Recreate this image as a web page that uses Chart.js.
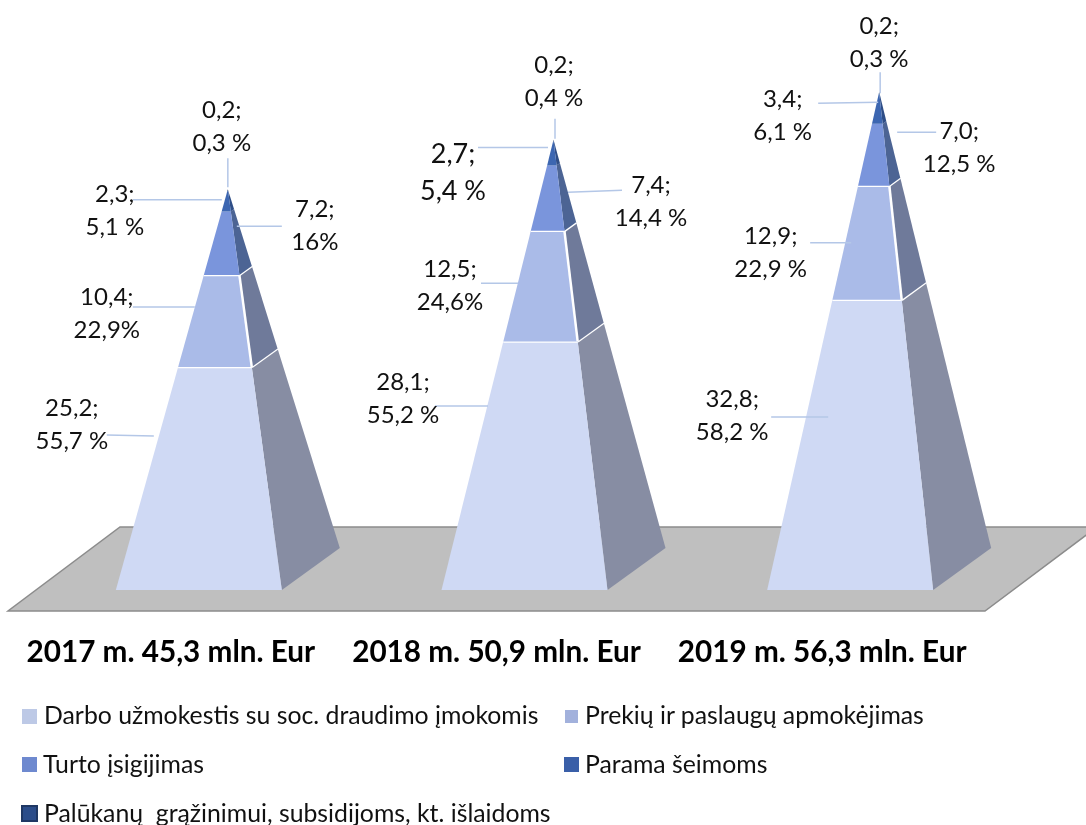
<!DOCTYPE html>
<html>
<head>
<meta charset="utf-8">
<title>Išlaidos</title>
<script src="https://cdn.jsdelivr.net/npm/chart.js@4"></script>
<style>
  html, body { margin: 0; background: #fff; }
  #wrap { position: relative; width: 1086px; height: 825px; overflow: hidden; }
  .legend-text { position: absolute; line-height: 30px; font: 24.8px Lato, sans-serif; color: #111; white-space: pre; }
  .legend-swatch { position: absolute; box-sizing: border-box; }
</style>
</head>
<body>
<div id="wrap">
  <canvas id="pyramidChart" width="1086" height="825"></canvas>
  <div id="legend"></div>
</div>
<script>
const years = ["2017 m. 45,3 mln. Eur", "2018 m. 50,9 mln. Eur", "2019 m. 56,3 mln. Eur"];

const darbo = [25.2, 28.1, 32.8];
const prekes = [10.4, 12.5, 12.9];
const turtas = [7.2, 7.4, 7.0];
const parama = [2.3, 2.7, 3.4];
const palukanos = [0.2, 0.2, 0.2];

const darboPct = ["55,7 %", "55,2 %", "58,2 %"];
const prekesPct = ["22,9%", "24,6%", "22,9 %"];
const turtasPct = ["16%", "14,4 %", "12,5 %"];
const paramaPct = ["5,1 %", "5,4 %", "6,1 %"];
const palukanosPct = ["0,3 %", "0,4 %", "0,3 %"];

const seriesNames = [
  "Darbo užmokestis su soc. draudimo įmokomis",
  "Prekių ir paslaugų apmokėjimas",
  "Turto įsigijimas",
  "Parama šeimoms",
  "Palūkanų  grąžinimui, subsidijoms, kt. išlaidoms",
];
const seriesValues = [darbo, prekes, turtas, parama, palukanos];
const seriesPct = [darboPct, prekesPct, turtasPct, paramaPct, palukanosPct];

const frontColors = ["#cfd9f4", "#aabbe8", "#7a95dc", "#3c66b1", "#1f3864"];
const sideColors = ["#878da3", "#6f7a9a", "#4c6494", "#2f4e87", "#1f3864"];
const legendColors = ["#bdc9e6", "#a2b1dc", "#6e89cf", "#3a5fa8", "#2b4d8a"];

// pyramid shape, px away from the apex at the base
const APEX_SHIFT = 57;
const BASE_LEFT = 112;
const BASE_RIGHT = 54;
const BACK_X = 112;
const BACK_Y = 42;

// label offsets from (apex x, section middle y): text x, text y, leader x0, y0, x1, y1
const labelLayout = [
  [[-156, -54, -121, -43.5, -74, -42.5], [-121, -7.5, -95, -14, -33, -14], [87, -17, 9, -17, 54, -17], [-113, 9.4, -95, -1.6, -6, -1.6], [-6, -63.5, 0, -32, 0, -3]],
  [[-150.5, -67, -118.5, -59.7, -65.5, -59.7], [-103.5, -0.5, -72.5, -3, -35.5, -3], [97.5, 3.5, 14.5, -6, 68.5, -8], [-100.5, 19.5, -75.5, -6, -5.5, -6], [0.5, -59, 1.5, -22, 1.5, -2]],
  [[-147, -29, -108, -28, -51, -28], [-108.5, 10, -69, 0, -28, 0], [80, -7, 18, -22.6, 57, -22.6], [-96.5, 6.5, -61, -5.6, -1, -6.6], [0, -50.6, 1, -20.6, 1, 0.4]],
];

function polygon(ctx, points) {
  ctx.beginPath();
  points.forEach((p, i) => (i ? ctx.lineTo(p[0], p[1]) : ctx.moveTo(p[0], p[1])));
  ctx.closePath();
}

function edgeLine(ctx, a, b) {
  ctx.beginPath();
  ctx.moveTo(a[0], a[1]);
  ctx.lineTo(b[0], b[1]);
  ctx.stroke();
}

const pyramidPlugin = {
  id: "pyramids",
  beforeDatasetsDraw(chart) {
    const { ctx, chartArea, scales } = chart;
    const floorY = scales.y.getPixelForValue(0) + 21;

    // floor
    ctx.save();
    polygon(ctx, [
      [chartArea.left, floorY],
      [chartArea.right, floorY],
      [chartArea.right + 112, floorY - 84],
      [chartArea.left + 112, floorY - 84],
    ]);
    ctx.fillStyle = "#bfbfbf";
    ctx.fill();
    ctx.strokeStyle = "#8c8c8c";
    ctx.lineWidth = 1.5;
    ctx.stroke();
    ctx.restore();

    // pyramids, one section at a time from the bars' own positions
    years.forEach((year, col) => {
      const apexX = chart.getDatasetMeta(0).data[col].x + APEX_SHIFT;
      const topBar = chart.getDatasetMeta(seriesValues.length - 1).data[col];
      const apexY = topBar.y;
      const baseY = chart.getDatasetMeta(0).data[col].base;
      const span = baseY - apexY;

      seriesValues.forEach((values, s) => {
        const bar = chart.getDatasetMeta(s).data[col];
        const f0 = (bar.base - apexY) / span;
        const f1 = (bar.y - apexY) / span;
        const frontL0 = [apexX - BASE_LEFT * f0, bar.base];
        const frontR0 = [apexX + BASE_RIGHT * f0, bar.base];
        const frontL1 = [apexX - BASE_LEFT * f1, bar.y];
        const frontR1 = [apexX + BASE_RIGHT * f1, bar.y];
        const back0 = [apexX + BACK_X * f0, bar.base - BACK_Y * f0];
        const back1 = [apexX + BACK_X * f1, bar.y - BACK_Y * f1];

        ctx.save();
        polygon(ctx, [frontR0, back0, back1, frontR1]);
        ctx.fillStyle = sideColors[s];
        ctx.fill();
        polygon(ctx, [frontL0, frontR0, frontR1, frontL1]);
        ctx.fillStyle = frontColors[s];
        ctx.fill();

        ctx.strokeStyle = "#fff";
        ctx.lineWidth = 2.5;
        if (s < 2) {
          edgeLine(ctx, frontL1, frontR1);
          edgeLine(ctx, frontR1, back1);
        }
        if (s === 1) edgeLine(ctx, frontR0, frontR1);
        ctx.restore();
      });
    });
  },
  afterDatasetsDraw(chart) {
    const { ctx } = chart;
    years.forEach((year, col) => {
      const apexX = chart.getDatasetMeta(0).data[col].x + APEX_SHIFT;
      seriesValues.forEach((values, s) => {
        const bar = chart.getDatasetMeta(s).data[col];
        const midY = (bar.y + bar.base) / 2;
        const spot = labelLayout[col][s];
        ctx.save();
        ctx.strokeStyle = "#b4c7e7";
        ctx.lineWidth = 1.5;
        edgeLine(ctx, [apexX + spot[2], midY + spot[3]], [apexX + spot[4], midY + spot[5]]);

        // the 2018 label for Parama is set a little bigger in the original
        const size = col === 1 && s === 3 ? 27 : 24;
        ctx.font = size + "px Lato, sans-serif";
        ctx.fillStyle = "#111";
        ctx.textAlign = "center";
        ctx.textBaseline = "middle";
        const textX = apexX + spot[0];
        const textY = midY + spot[1];
        const gap = size === 27 ? 18.5 : 16.5;
        ctx.fillText(values[col].toFixed(1).replace(".", ",") + ";", textX, textY - gap);
        ctx.fillText(seriesPct[s][col], textX, textY + gap);
        ctx.restore();
      });
    });
  },
};

new Chart(document.getElementById("pyramidChart"), {
  type: "bar",
  plugins: [pyramidPlugin],
  data: {
    labels: years,
    datasets: seriesValues.map((values, s) => ({
      label: seriesNames[s],
      data: values,
      backgroundColor: "rgba(0,0,0,0)",
    })),
  },
  options: {
    responsive: false,
    animation: false,
    layout: { autoPadding: false, padding: { left: 8, right: 101, top: 0, bottom: 0 } },
    plugins: {
      legend: { display: false },
      tooltip: { enabled: false },
    },
    scales: {
      x: {
        stacked: true,
        grid: { display: false, drawTicks: false },
        border: { display: false },
        afterFit(axis) {
          axis.height = 235;
          // wide labels would otherwise squeeze the categories inwards
          axis.paddingLeft = 0;
          axis.paddingRight = 0;
        },
        ticks: {
          padding: 45,
          maxRotation: 0,
          autoSkip: false,
          color: "#000",
          font: { family: "Lato, sans-serif", size: 29.7, weight: "bold" },
        },
      },
      y: {
        stacked: true,
        display: false,
        min: 0,
        max: 66.7,
      },
    },
  },
});

// legend in two columns: swatch x, y, size, then text x, y
const legendSpots = [
  [22, 709, 15, 44, 700],
  [565, 710, 13, 585, 700],
  [22, 757, 15, 43, 749],
  [564, 757, 15, 585, 749],
  [21, 805, 17, 44, 798],
];
const legendBox = document.getElementById("legend");
seriesNames.forEach((name, s) => {
  const spot = legendSpots[s];
  const swatch = document.createElement("div");
  swatch.className = "legend-swatch";
  swatch.style.cssText = `left:${spot[0]}px;top:${spot[1]}px;width:${spot[2]}px;height:${spot[2]}px;background:${legendColors[s]}`;
  if (s === 4) swatch.style.border = "2px solid #1f3864";
  const text = document.createElement("div");
  text.className = "legend-text";
  text.style.left = spot[3] + "px";
  text.style.top = spot[4] + "px";
  text.textContent = name;
  legendBox.appendChild(swatch);
  legendBox.appendChild(text);
});
</script>
</body>
</html>
